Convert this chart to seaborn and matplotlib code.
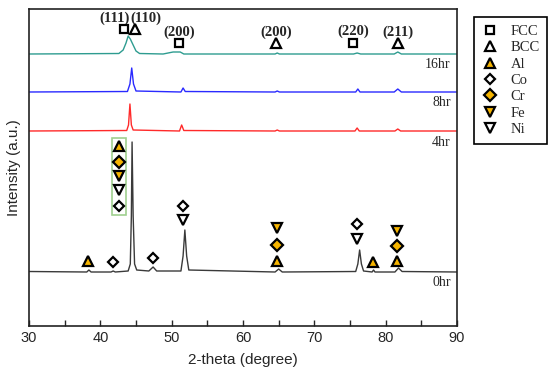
import numpy as np
import pandas as pd
import matplotlib
matplotlib.use('Agg')
import matplotlib.pyplot as plt
from matplotlib.lines import Line2D
from matplotlib.patches import Rectangle
import seaborn as sns

# XRD patterns: (2-theta, stacked intensity) knots
theta_0hr = [30, 38.1, 38.4, 38.7, 41.5, 41.8, 42.1, 43.9, 44.2, 44.35, 44.45, 44.6, 44.8, 45.1,
             46.8, 47.4, 47.9, 51.3, 51.6, 51.85, 52.1, 52.4, 64.5, 65.0, 65.5,
             75.8, 76.1, 76.35, 76.6, 76.9, 78.1, 78.3, 78.5, 81.3, 81.8, 82.3, 90]
int_0hr = [54.5, 54, 56, 54, 54, 55, 54, 55, 62, 110, 184, 110, 62, 56,
           55, 59, 55, 55, 70, 96, 70, 56, 54, 57, 54,
           54.5, 62, 76, 62, 55, 54, 56, 54, 54, 58, 54.5, 54]

theta_4hr = [30, 43.7, 43.95, 44.15, 44.35, 44.6, 51.1, 51.4, 51.7, 64.5, 64.8, 65.1,
             75.7, 76.0, 76.3, 81.3, 81.7, 82.1, 90]
int_4hr = [195, 195.5, 201, 222, 201, 196, 195, 201, 195.5, 195, 196, 195,
           195, 198, 195, 195, 197, 195, 195]

theta_8hr = [30, 43.8, 44.15, 44.4, 44.65, 45.0, 51.3, 51.6, 51.9, 64.5, 64.8, 65.1,
             75.8, 76.1, 76.4, 81.2, 81.7, 82.2, 90]
int_8hr = [234, 234.5, 242, 258, 242, 235, 234, 238, 234.5, 234, 235, 234,
           234, 237, 234, 234, 237, 234, 234]

theta_16hr = [30, 42.6, 43.2, 43.6, 43.9, 44.2, 44.6, 45.0, 45.5, 48.8, 50.2, 51.2, 51.7,
              64.5, 64.8, 65.1, 75.5, 76.0, 76.5, 81.2, 81.7, 82.2, 90]
int_16hr = [272, 272.5, 276, 283, 290, 287, 281, 275, 272.5, 272, 274, 274, 272,
            272, 273, 272, 272, 273, 272, 272, 274, 272, 272]

pattern_names = ['0hr', '4hr', '8hr', '16hr']
pattern_colors = ['#3a3a3a', '#ff2a2a', '#2a2aff', '#2e9c90']
pattern_label_y = [44, 184, 223, 261]

# phase / element markers: (2-theta, height, kind)
mark_theta = [43.3, 44.85, 51.0, 64.6, 75.4, 81.7,
              38.3, 41.8, 47.4, 51.6, 51.6, 64.8, 64.8, 64.8, 76.0, 76.0, 78.2, 81.6, 81.6, 81.6,
              42.6, 42.6, 42.6, 42.6, 42.6]
mark_height = [297, 297, 283, 283, 283, 283,
               65, 64, 68, 120, 106, 98, 81, 65, 102, 87, 64, 95, 80, 65,
               180, 164, 150, 136, 120]
mark_kind = ['FCC', 'BCC', 'FCC', 'BCC', 'FCC', 'BCC',
             'Al', 'Co', 'Co', 'Co', 'Ni', 'Fe', 'Cr', 'Al', 'Co', 'Ni', 'Al', 'Fe', 'Cr', 'Al',
             'Al', 'Cr', 'Fe', 'Ni', 'Co']

hkl_text = ['(111)', '(110)', '(200)', '(200)', '(220)', '(211)']
hkl_theta = [41.95, 46.45, 51.0, 64.6, 75.4, 81.7]
hkl_height = [308, 308, 294, 294, 295, 294]

orange = '#f5b400'
styles = {
    'FCC': dict(marker='s', face='white', size=6.3),
    'BCC': dict(marker='^', face='white', size=7),
    'Al': dict(marker='^', face=orange, size=7),
    'Co': dict(marker='D', face='white', size=4.8),
    'Cr': dict(marker='D', face=orange, size=6.5),
    'Fe': dict(marker='v', face=orange, size=7),
    'Ni': dict(marker='v', face='white', size=7),
}

sns.set_style('ticks')
fig = plt.figure(figsize=(5.5, 3.78), dpi=100)
ax = fig.add_axes([29 / 550, 52 / 378, 428 / 550, 317 / 378])

patterns = [(theta_0hr, int_0hr), (theta_4hr, int_4hr), (theta_8hr, int_8hr), (theta_16hr, int_16hr)]
for (th, it), name, col, ly in zip(patterns, pattern_names, pattern_colors, pattern_label_y):
    df = pd.DataFrame({'theta': th, 'intensity': it})
    sns.lineplot(data=df, x='theta', y='intensity', color=col, lw=1.0, sort=False,
                 estimator=None, ax=ax)
    ax.text(89.1, ly, name, ha='right', va='center', fontsize=10,
            family='Liberation Serif')

for th, h, k in zip(mark_theta, mark_height, mark_kind):
    st = styles[k]
    ax.plot([th], [h], marker=st['marker'], ms=st['size'], mfc=st['face'], mec='black',
            mew=1.6, ls='none', zorder=5)

for t, th, h in zip(hkl_text, hkl_theta, hkl_height):
    ax.text(th, h, t, ha='center', va='center', fontsize=10.5, fontweight='bold',
            family='Liberation Serif')

# green call-out box around the stacked markers at the main peak
ax.add_patch(Rectangle((41.65, 111), 1.95, 77, fill=False, ec='#9fd08f', lw=1.2, zorder=4))

ax.set_xlim(30, 90)
ax.set_ylim(0, 317)
ax.set_xticks(range(30, 91, 10))
ax.set_xticks(range(35, 90, 10), minor=True)
ax.set_yticks([])
ax.tick_params(axis='x', which='both', direction='in', length=4, width=1, labelsize=10.5)
for sp in ax.spines.values():
    sp.set_visible(True)
    sp.set_linewidth(1.2)
    sp.set_color('#222222')
ax.set_xlabel('2-theta (degree)', fontsize=11, labelpad=6)
ax.set_ylabel('Intensity (a.u.)', fontsize=11, labelpad=6)
for lbl in ax.get_xticklabels():
    lbl.set_family('Liberation Sans')
ax.xaxis.label.set_family('Liberation Sans')
ax.yaxis.label.set_family('Liberation Sans')

handles = []
for k in ['FCC', 'BCC', 'Al', 'Co', 'Cr', 'Fe', 'Ni']:
    st = styles[k]
    handles.append(Line2D([], [], marker=st['marker'], ms=st['size'], mfc=st['face'],
                          mec='black', mew=1.6, ls='none', label=k))
leg = fig.legend(handles=handles, loc='upper left', bbox_to_anchor=(467 / 550, 1 - 10 / 378),
                 frameon=True, fancybox=False, edgecolor='black', framealpha=1,
                 prop={'family': 'Liberation Serif', 'size': 10.5}, labelspacing=0.22,
                 handletextpad=0.8, borderpad=0.5, handlelength=1.2)
leg.get_frame().set_linewidth(1.2)

fig.savefig('out.png', dpi=100)
